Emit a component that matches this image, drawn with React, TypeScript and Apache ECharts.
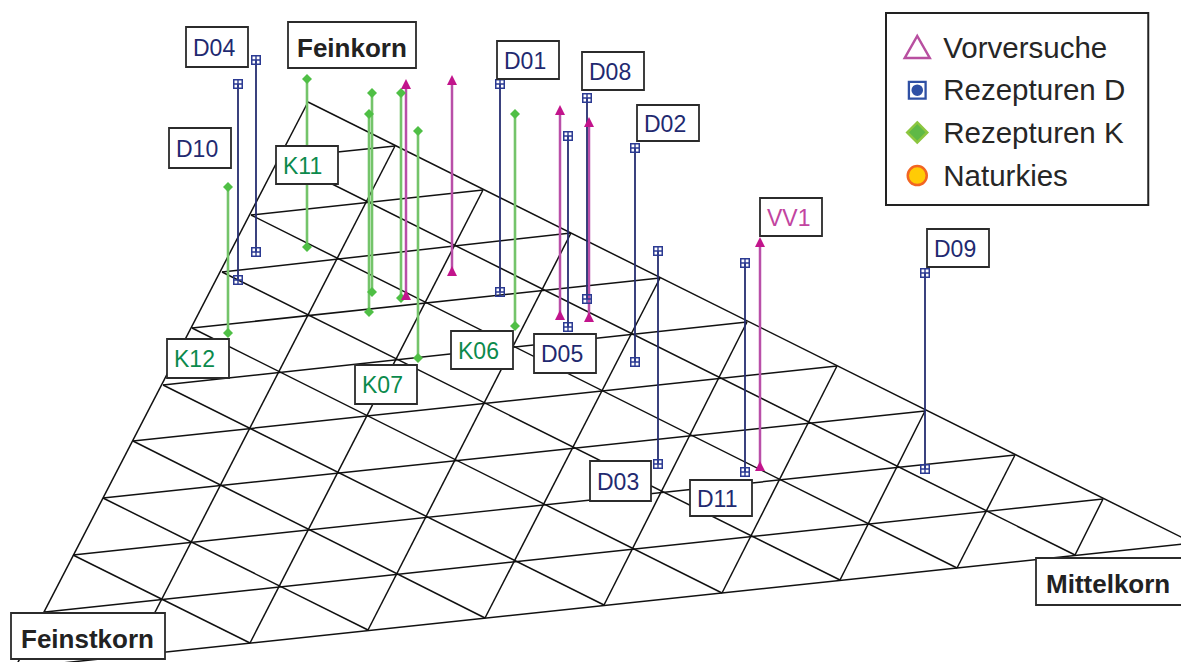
import React, { useEffect, useRef } from "react";
import * as echarts from "echarts";

// Ternary grid nodes (10 divisions per side)
const rightEdge = [[308,102],[395,146],[483,190],[571,233],[660,278],[747,322],[837,366],[925,411],[1015,455],[1103,499],[1193,543]];
const leftEdge = [[308,102],[280,158],[251,215],[222,272],[192,328],[163,385],[133,441],[103,498],[73,555],[45,612],[15,668]];
const bottomEdge = [[15,668],[133,655],[250,643],[368,630],[485,618],[604,605],[722,593],[840,580],[957,568],[1075,555],[1193,543]];

// Ranges: [x, y of top mark, y of bottom mark]
const rezepturenD = [[256,60,252],[238,84,280],[500,84,292],[587,98,299],[568,136,327],[635,148,362],[658,251,464],[745,263,472],[925,273,469]];
const vorversuche = [[406,84,295],[452,80,271],[560,110,315],[589,122,317],[760,242,466]];
const rezepturenK = [[307,79,247],[372,93,292],[369,114,312],[401,93,298],[418,131,358],[228,187,333],[515,114,326]];

const legendNames = ["Vorversuche", "Rezepturen D", "Rezepturen K", "Naturkies"];
const dLabels = ["D04","D10","D01","D08","D05","D02","D03","D11","D09"];
const kLabels = ["K11","K12","K06","K07"];
const vLabels = ["VV1"];
const cornerLabels = ["Feinkorn","Feinstkorn","Mittelkorn"];

const FONT = '"Liberation Sans", Arial, sans-serif';
const NAVY = "#1f2a70";
const GREEN_TEXT = "#0b8a4c";
const PINK_TEXT = "#c244a0";

// Label box layout: x, y, w, h
const boxes: Record<string, number[]> = {
  D04: [186,27,62,40], D10: [169,128,62,40], D01: [497,41,62,38], D08: [582,52,62,38],
  D05: [534,334,62,39], D02: [637,105,62,36], D03: [590,461,61,40], D11: [690,480,62,36], D09: [927,229,62,38],
  K11: [276,146,62,38], K12: [167,339,62,39], K06: [451,331,62,38], K07: [355,365,62,39],
  VV1: [760,198,62,38],
  Feinkorn: [288,22,128,46], Feinstkorn: [11,613,154,46], Mittelkorn: [1036,558,150,47],
};

const D_SYMBOL = "path://M0 0H10V10H0Z M1.5 1.5V4.3H4.3V1.5Z M5.7 1.5V4.3H8.5V1.5Z M1.5 5.7V8.5H4.3V5.7Z M5.7 5.7V8.5H8.5V5.7Z";
// Legend icons share a 26x26 box; the two degenerate corners keep each glyph at its own size
const CORNERS = "M0 0L0 0M26 26L26 26";
const ICON_TRIANGLE = `path://${CORNERS}M13 2L25.5 24H0.5Z`;
const ICON_D = `path://${CORNERS}M3.5 4H22.5V23H3.5Z M5.8 6.3V20.7H20.2V6.3Z M13 7.7A5.8 5.8 0 1 1 13 19.3A5.8 5.8 0 1 1 13 7.7Z`;
const ICON_K = `path://${CORNERS}M13 3L23 13L13 23L3 13Z`;
const ICON_N = `path://${CORNERS}M13 4A9.5 9.5 0 1 1 13 23A9.5 9.5 0 1 1 13 4Z`;

function gridSeries() {
  const segs: number[][][] = [];
  for (let j = 1; j <= 10; j++) segs.push([leftEdge[j], rightEdge[j]]);
  for (let j = 0; j < 10; j++) segs.push([leftEdge[j], bottomEdge[10 - j]]);
  for (let i = 0; i < 10; i++) segs.push([rightEdge[i], bottomEdge[i]]);
  return segs.map((s) => ({
    type: "line", data: s, symbol: "none", silent: true, z: 2,
    lineStyle: { color: "#111", width: 1.5 },
  }));
}

function rangeSeries(rows: number[][], name: string, symbol: string, size: number, color: string, lineColor: string, width: number) {
  return rows.map((r) => ({
    type: "line", name, symbol, symbolSize: size, showAllSymbol: true, silent: true, z: 3,
    data: [[r[0], r[1]], [r[0], r[2]]],
    itemStyle: { color },
    lineStyle: { color: lineColor, width },
  }));
}

function labelGraphic(name: string, color: string, size: number, bold: boolean, pad: number, dy: number) {
  const [x, y, w, h] = boxes[name];
  return [
    { type: "rect", z: 100, shape: { x, y, width: w, height: h }, style: { fill: "#fff", stroke: "#2b2b2b", lineWidth: 1.8 } },
    { type: "text", z: 101, x: x + pad, y: y + h / 2 + dy, style: { text: name, fill: color, font: `${bold ? "bold " : ""}${size}px ${FONT}`, textAlign: "left", textVerticalAlign: "middle" } },
  ];
}

export default function App() {
  const ref = useRef<HTMLDivElement>(null);
  useEffect(() => {
    const chart = echarts.init(ref.current!, undefined, { renderer: "svg" });
    const graphic: any[] = [
      ...dLabels.flatMap((n) => labelGraphic(n, NAVY, 23, false, 7, 0.5)),
      ...kLabels.flatMap((n) => labelGraphic(n, GREEN_TEXT, 23, false, 7, 0.5)),
      ...vLabels.flatMap((n) => labelGraphic(n, PINK_TEXT, 23, false, 7, 0.5)),
      ...labelGraphic(cornerLabels[0], "#222", 26, true, 9, 3),
      ...labelGraphic(cornerLabels[1], "#222", 26, true, 10, 3),
      ...labelGraphic(cornerLabels[2], "#222", 26, true, 10, 2),
    ];
    chart.setOption({
      animation: false,
      backgroundColor: "#fff",
      grid: { left: 0, right: 0, top: 0, bottom: 0 },
      xAxis: { type: "value", min: 0, max: 1181, show: false },
      yAxis: { type: "value", min: 0, max: 662, inverse: true, show: false },
      legend: {
        orient: "vertical", left: 886, top: 13, padding: [19, 23, 15, 17],
        backgroundColor: "#fff", borderColor: "#222", borderWidth: 2,
        itemWidth: 42, itemHeight: 26, itemGap: 12.7, selectedMode: false, z: 100,
        textStyle: { fontFamily: FONT, fontSize: 29.5, color: "#262626" },
        data: [
          { name: legendNames[0], icon: ICON_TRIANGLE, itemStyle: { color: "#fff", borderColor: "#b84fa0", borderWidth: 2.5 } },
          { name: legendNames[1], icon: ICON_D, itemStyle: { color: "#2f50a4", borderWidth: 0 } },
          { name: legendNames[2], icon: ICON_K, itemStyle: { color: "#5fb946", borderColor: "#8cc63f", borderWidth: 2.5 } },
          { name: legendNames[3], icon: ICON_N, itemStyle: { color: "#ffcb05", borderColor: "#f26522", borderWidth: 2.5 } },
        ],
      },
      graphic,
      series: [
        ...gridSeries(),
        ...rangeSeries(rezepturenK, legendNames[2], "diamond", 10, "#4fbf45", "#74c46a", 2.6),
        ...rangeSeries(vorversuche, legendNames[0], "triangle", 10, "#c2148c", "#b94fa8", 2.5),
        ...rangeSeries(rezepturenD, legendNames[1], D_SYMBOL, 10, "#2b3a92", "#252d70", 1.8),
        { type: "line", name: legendNames[3], data: [], symbol: "circle" },
      ],
    });
    return () => chart.dispose();
  }, []);
  return <div ref={ref} style={{ position: "absolute", left: 0, top: 0, width: 1181, height: 662 }} />;
}
